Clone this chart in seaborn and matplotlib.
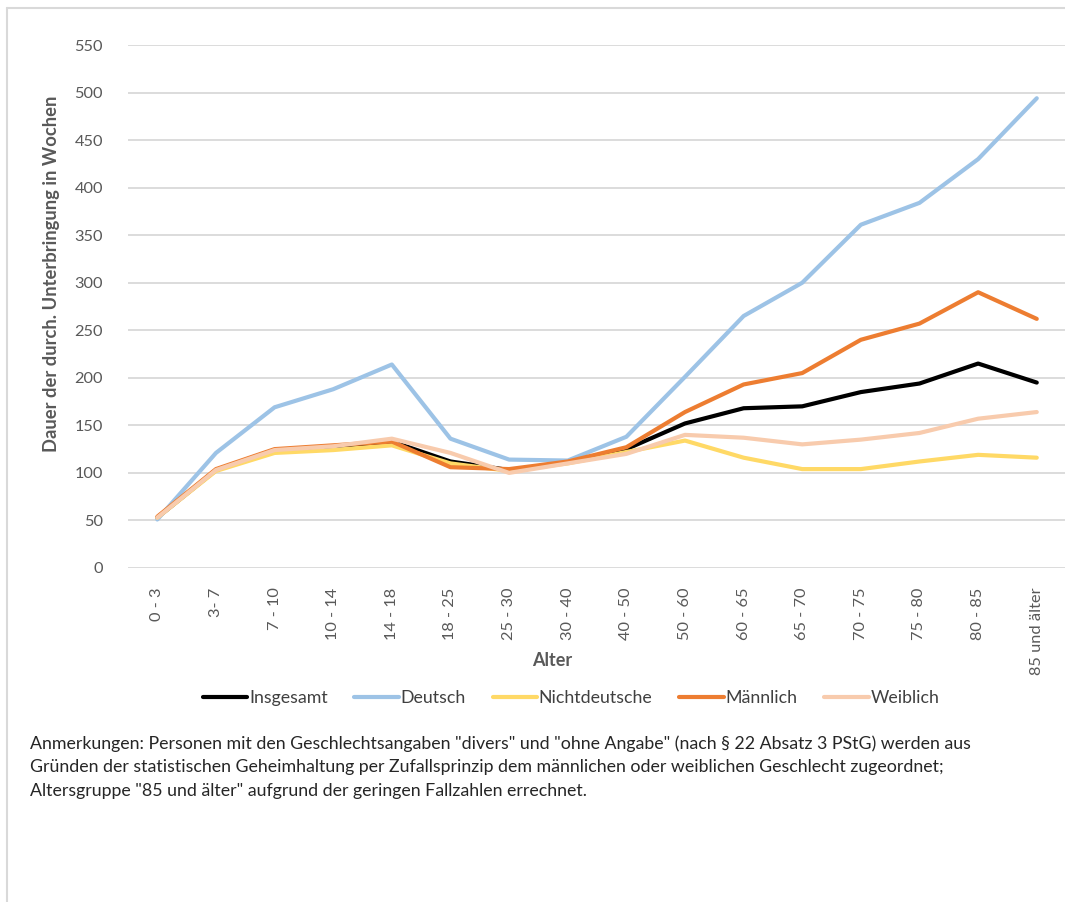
import pandas as pd
import matplotlib
matplotlib.use("Agg")
import matplotlib.pyplot as plt
from matplotlib.lines import Line2D
import seaborn as sns

# Werte (Wochen)
alter = ["0 - 3", "3- 7", "7 - 10", "10 - 14", "14 - 18", "18 - 25", "25 - 30", "30 - 40",
         "40 - 50", "50 - 60", "60 - 65", "65 - 70", "70 - 75", "75 - 80", "80 - 85", "85 und älter"]
insgesamt = [53, 103, 124, 128, 133, 112, 103, 111, 125, 152, 168, 170, 185, 194, 215, 195]
deutsch = [51, 121, 169, 188, 214, 136, 114, 113, 138, 201, 265, 300, 361, 384, 430, 494]
nichtdeutsche = [53, 102, 121, 124, 129, 110, 102, 110, 122, 134, 116, 104, 104, 112, 119, 116]
maennlich = [54, 104, 125, 129, 133, 106, 104, 112, 127, 164, 193, 205, 240, 257, 290, 262]
weiblich = [53, 103, 124, 128, 136, 121, 100, 110, 120, 140, 137, 130, 135, 142, 157, 164]

serien = ["Insgesamt", "Deutsch", "Nichtdeutsche", "Männlich", "Weiblich"]
farben = ["#000000", "#9DC3E6", "#FFD966", "#ED7D31", "#F8CBAD"]

df = pd.concat([
    pd.DataFrame({"Alter": alter, "pos": range(len(alter)), "Wert": werte, "Gruppe": name})
    for name, werte in zip(serien, [insgesamt, deutsch, nichtdeutsche, maennlich, weiblich])
])

sns.set_theme(style="white")
plt.rcParams["font.family"] = ["Lato", "DejaVu Sans"]

fig = plt.figure(figsize=(10.65, 9.02), dpi=100)
ax = fig.add_axes([0.1202, 0.3703, 0.8808, 0.5798])

sns.lineplot(data=df, x="pos", y="Wert", hue="Gruppe", hue_order=serien,
             palette=dict(zip(serien, farben)), linewidth=3.0, sort=False,
             legend=False, ax=ax)

ax.set_xlim(-0.5, len(alter) - 0.5)
ax.set_ylim(0, 550)
ax.set_yticks(range(0, 551, 50))
ax.set_xticks(range(len(alter)))
ax.set_xticklabels(alter, rotation=90, va="top", ha="center")
ax.tick_params(axis="both", length=0, labelsize=11.8, colors="#595959")
ax.tick_params(axis="x", pad=14)
ax.tick_params(axis="y", pad=18)
ax.yaxis.grid(True, color="#D9D9D9", linewidth=1.3)
ax.set_axisbelow(True)
for s in ax.spines.values():
    s.set_visible(False)
ax.set_xlabel("")
ax.set_ylabel("")

fig.text(552 / 1065, 1 - 660 / 902, "Alter", ha="center", va="center",
         fontsize=13, fontweight="bold", color="#595959")
fig.text(52 / 1065, 1 - 274 / 902, "Dauer der durch. Unterbringung in Wochen", ha="center",
         va="center", rotation=90, fontsize=13.2, fontweight="bold", color="#595959")

handles = [Line2D([0], [0], color=c, linewidth=3.0) for c in farben]
fig.legend(handles, serien, loc="center", bbox_to_anchor=(571 / 1065, 1 - 698 / 902),
           ncol=5, frameon=False, fontsize=12.8, handlelength=2.5, handletextpad=0.1,
           columnspacing=1.5, labelcolor="#404040")

anm = ('Anmerkungen: Personen mit den Geschlechtsangaben "divers" und "ohne Angabe" (nach § 22 Absatz 3 PStG) werden aus\n'
       'Gründen der statistischen Geheimhaltung per Zufallsprinzip dem männlichen oder weiblichen Geschlecht zugeordnet;\n'
       'Altersgruppe "85 und älter" aufgrund der geringen Fallzahlen errechnet.')
fig.text(30 / 1065, 1 - 735 / 902, anm, ha="left", va="top", fontsize=12.8,
         color="#262626", linespacing=1.6)

# Rahmen oben und links
fig.add_artist(Line2D([7 / 1065, 7 / 1065], [0, 1 - 8 / 902], color="#D9D9D9", linewidth=1.5))
fig.add_artist(Line2D([7 / 1065, 1], [1 - 8 / 902, 1 - 8 / 902], color="#D9D9D9", linewidth=1.5))

fig.savefig("out.png", dpi=100)
